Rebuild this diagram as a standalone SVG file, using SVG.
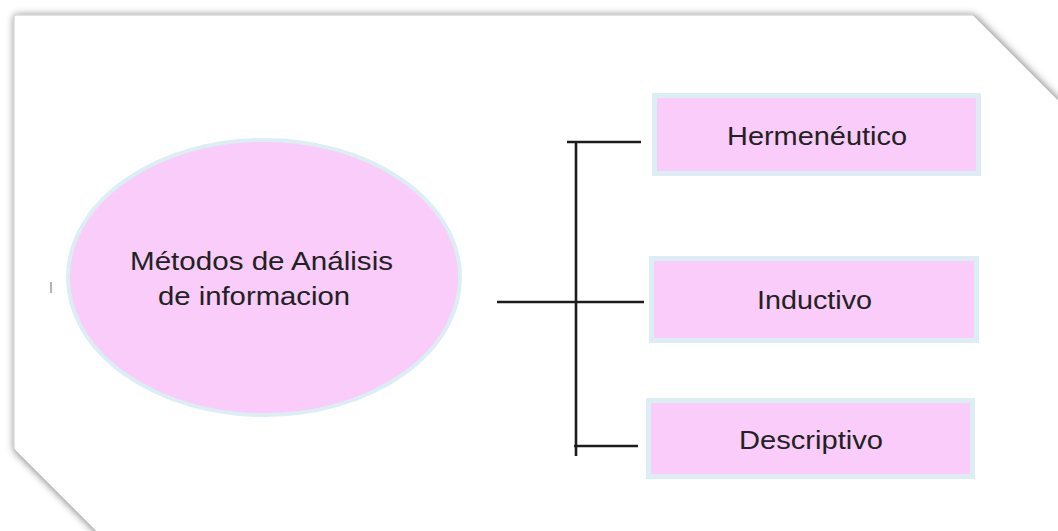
<svg xmlns="http://www.w3.org/2000/svg" width="1058" height="531" viewBox="0 0 1058 531">
  <defs>
    <filter id="shadow" x="-5%" y="-5%" width="110%" height="110%">
      <feGaussianBlur in="SourceAlpha" stdDeviation="4" result="b"/>
      <feOffset in="b" dx="1" dy="1" result="o"/>
      <feComponentTransfer in="o" result="s">
        <feFuncA type="linear" slope="0.55"/>
      </feComponentTransfer>
      <feMerge>
        <feMergeNode in="s"/>
        <feMergeNode in="SourceGraphic"/>
      </feMerge>
    </filter>
  </defs>
  <style>
    .node { fill: #f9ccf9; stroke: #dcedf3; }
    .lbl { font-family: "Liberation Sans", Arial, sans-serif; font-size: 25px; fill: #222222; }
    .conn { stroke: #1c1c1c; stroke-width: 2.6; fill: none; stroke-linecap: butt; }
  </style>
  <rect width="1058" height="531" fill="#ffffff"/>
  <g id="page">
    <polygon points="14,15 973,15 1085,127 1085,565 130,565 14,449" fill="#ffffff" stroke="#c8c8c8" stroke-width="1" filter="url(#shadow)"/>
    <line x1="51" y1="282" x2="51" y2="293" stroke="#9a9a9a" stroke-width="1.5"/>
  </g>
  <g id="connectors">
    <line class="conn" x1="576" y1="141" x2="576" y2="456"/>
    <line class="conn" x1="567" y1="142" x2="641" y2="142"/>
    <line class="conn" x1="497" y1="302" x2="644" y2="302"/>
    <line class="conn" x1="574" y1="446" x2="638" y2="446"/>
  </g>
  <g id="main">
    <ellipse class="node" cx="264" cy="277.5" rx="196" ry="137.5" stroke-width="4"/>
    <text class="lbl" x="130" y="270" textLength="263" lengthAdjust="spacingAndGlyphs">Métodos de Análisis</text>
    <text class="lbl" x="158" y="305" textLength="192" lengthAdjust="spacingAndGlyphs">de informacion</text>
  </g>
  <g id="hermeneutico">
    <rect class="node" x="654.5" y="95.5" width="324" height="78" stroke-width="5"/>
    <text class="lbl" x="817" y="145" text-anchor="middle" textLength="180" lengthAdjust="spacingAndGlyphs">Hermenéutico</text>
  </g>
  <g id="inductivo">
    <rect class="node" x="651.5" y="258.5" width="325" height="82" stroke-width="5"/>
    <text class="lbl" x="814.5" y="309" text-anchor="middle" textLength="115" lengthAdjust="spacingAndGlyphs">Inductivo</text>
  </g>
  <g id="descriptivo">
    <rect class="node" x="648.5" y="400.5" width="324" height="76" stroke-width="5"/>
    <text class="lbl" x="811" y="449" text-anchor="middle" textLength="144" lengthAdjust="spacingAndGlyphs">Descriptivo</text>
  </g>
</svg>
